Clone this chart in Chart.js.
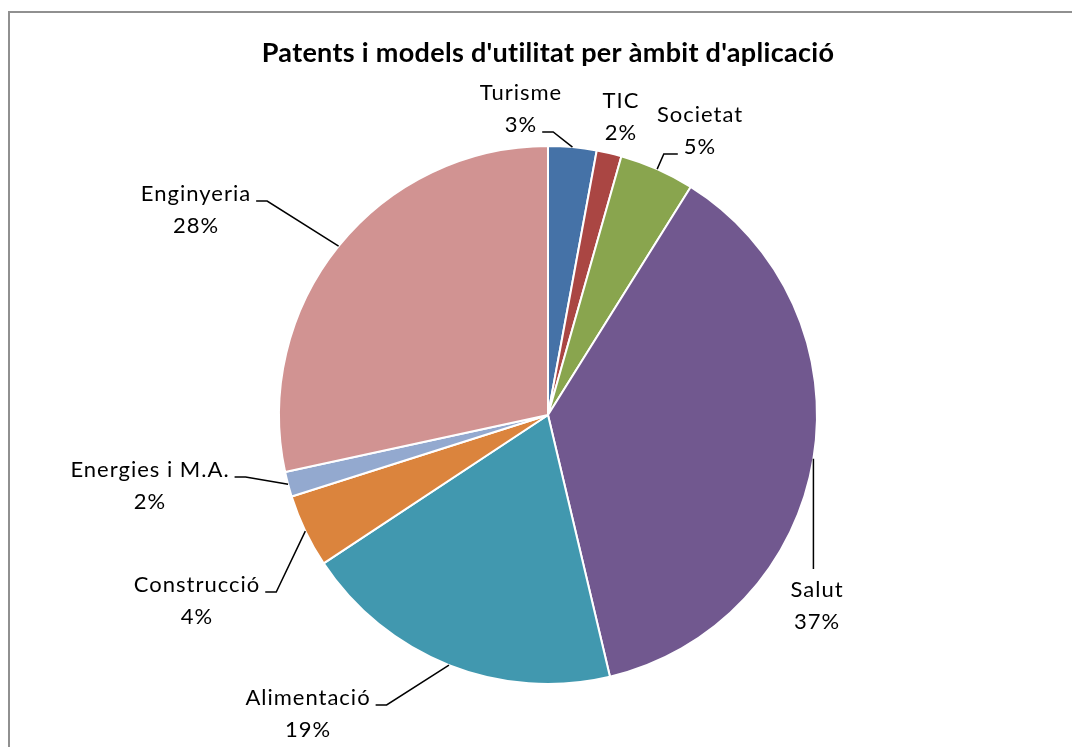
<!DOCTYPE html>
<html>
<head>
<meta charset="utf-8">
<script src="https://cdn.jsdelivr.net/npm/chart.js@4"></script>
<style>
  html, body { margin: 0; padding: 0; background: #fff; overflow: hidden; }
  #frame { position: absolute; left: 8px; top: 11px; width: 1100px; height: 800px;
           border-left: 2px solid #909090; border-top: 2px solid #909090; }
  #chart { position: absolute; left: 0; top: 0; }
</style>
</head>
<body>
<div id="frame"></div>
<canvas id="chart" width="1072" height="747"></canvas>
<script>
const title = "Patents i models d'utilitat per àmbit d'aplicació";
const categories = ['Turisme', 'TIC', 'Societat', 'Salut', 'Alimentació', 'Construcció', 'Energies i M.A.', 'Enginyeria'];
const shares = [2.9, 1.5, 4.5, 37.4, 19.4, 4.4, 1.5, 28.4];
const colors = ['#4572A7', '#AA4643', '#89A54E', '#71588F', '#4198AF', '#DB843D', '#93A9CF', '#D19392'];

// label layout: text centre x, first line y, which line the leader attaches to, side
const labelLayout = [
  [521, 93, 1, 'right'],
  [621, 101, 1, null],
  [700, 115, 1, 'left'],
  [817, 590, 0, 'top'],
  [308, 698, 0, 'right'],
  [197, 585, 0, 'right'],
  [150, 470, 0, 'right'],
  [196, 194, 0, 'right']
];

const lineGap = 32;

const labelsPlugin = {
  id: 'pieLabels',
  afterDraw(chart) {
    const ctx = chart.ctx;
    const arcs = chart.getDatasetMeta(0).data;
    const total = shares.reduce((a, b) => a + b, 0);
    ctx.save();
    ctx.fillStyle = '#000';
    ctx.textAlign = 'center';
    ctx.textBaseline = 'middle';
    ctx.font = 'bold 27px Lato';
    ctx.letterSpacing = '0.3px';
    ctx.fillText(title, 548, 53);

    ctx.font = '22px Lato';
    ctx.letterSpacing = '1px';
    arcs.forEach((arc, i) => {
      const [cx, y0, attach, side] = labelLayout[i];
      const lines = [categories[i], Math.round(shares[i] / total * 100) + '%'];
      lines.forEach((t, k) => ctx.fillText(t, cx, y0 + k * lineGap));

      if (!side) return;
      const mid = (arc.startAngle + arc.endAngle) / 2;
      const px = arc.x + Math.cos(mid) * arc.outerRadius;
      const py = arc.y + Math.sin(mid) * arc.outerRadius;
      const w = ctx.measureText(lines[attach]).width;
      const ly = y0 + attach * lineGap + 7;
      ctx.strokeStyle = '#000';
      ctx.lineWidth = 1.5;
      ctx.beginPath();
      if (side === 'right') {
        const x1 = cx + w / 2 + 5;
        ctx.moveTo(x1, ly);
        ctx.lineTo(x1 + 11, ly);
        ctx.lineTo(px, py);
      } else if (side === 'left') {
        const x1 = cx - w / 2 - 6;
        ctx.moveTo(x1, ly);
        ctx.lineTo(x1 - 14, ly);
        ctx.lineTo(px, py);
      } else {
        ctx.moveTo(px, py);
        ctx.lineTo(px, y0 - 21);
      }
      ctx.stroke();
    });
    ctx.restore();
  }
};

new Chart(document.getElementById('chart'), {
  type: 'pie',
  data: {
    labels: categories,
    datasets: [{
      data: shares,
      backgroundColor: colors,
      borderColor: '#ffffff',
      borderWidth: 2
    }]
  },
  options: {
    responsive: false,
    animation: false,
    layout: { padding: { left: 278, right: 254, top: 145, bottom: 62 } },
    plugins: {
      legend: { display: false },
      tooltip: { enabled: false }
    }
  },
  plugins: [labelsPlugin]
});
</script>
</body>
</html>
